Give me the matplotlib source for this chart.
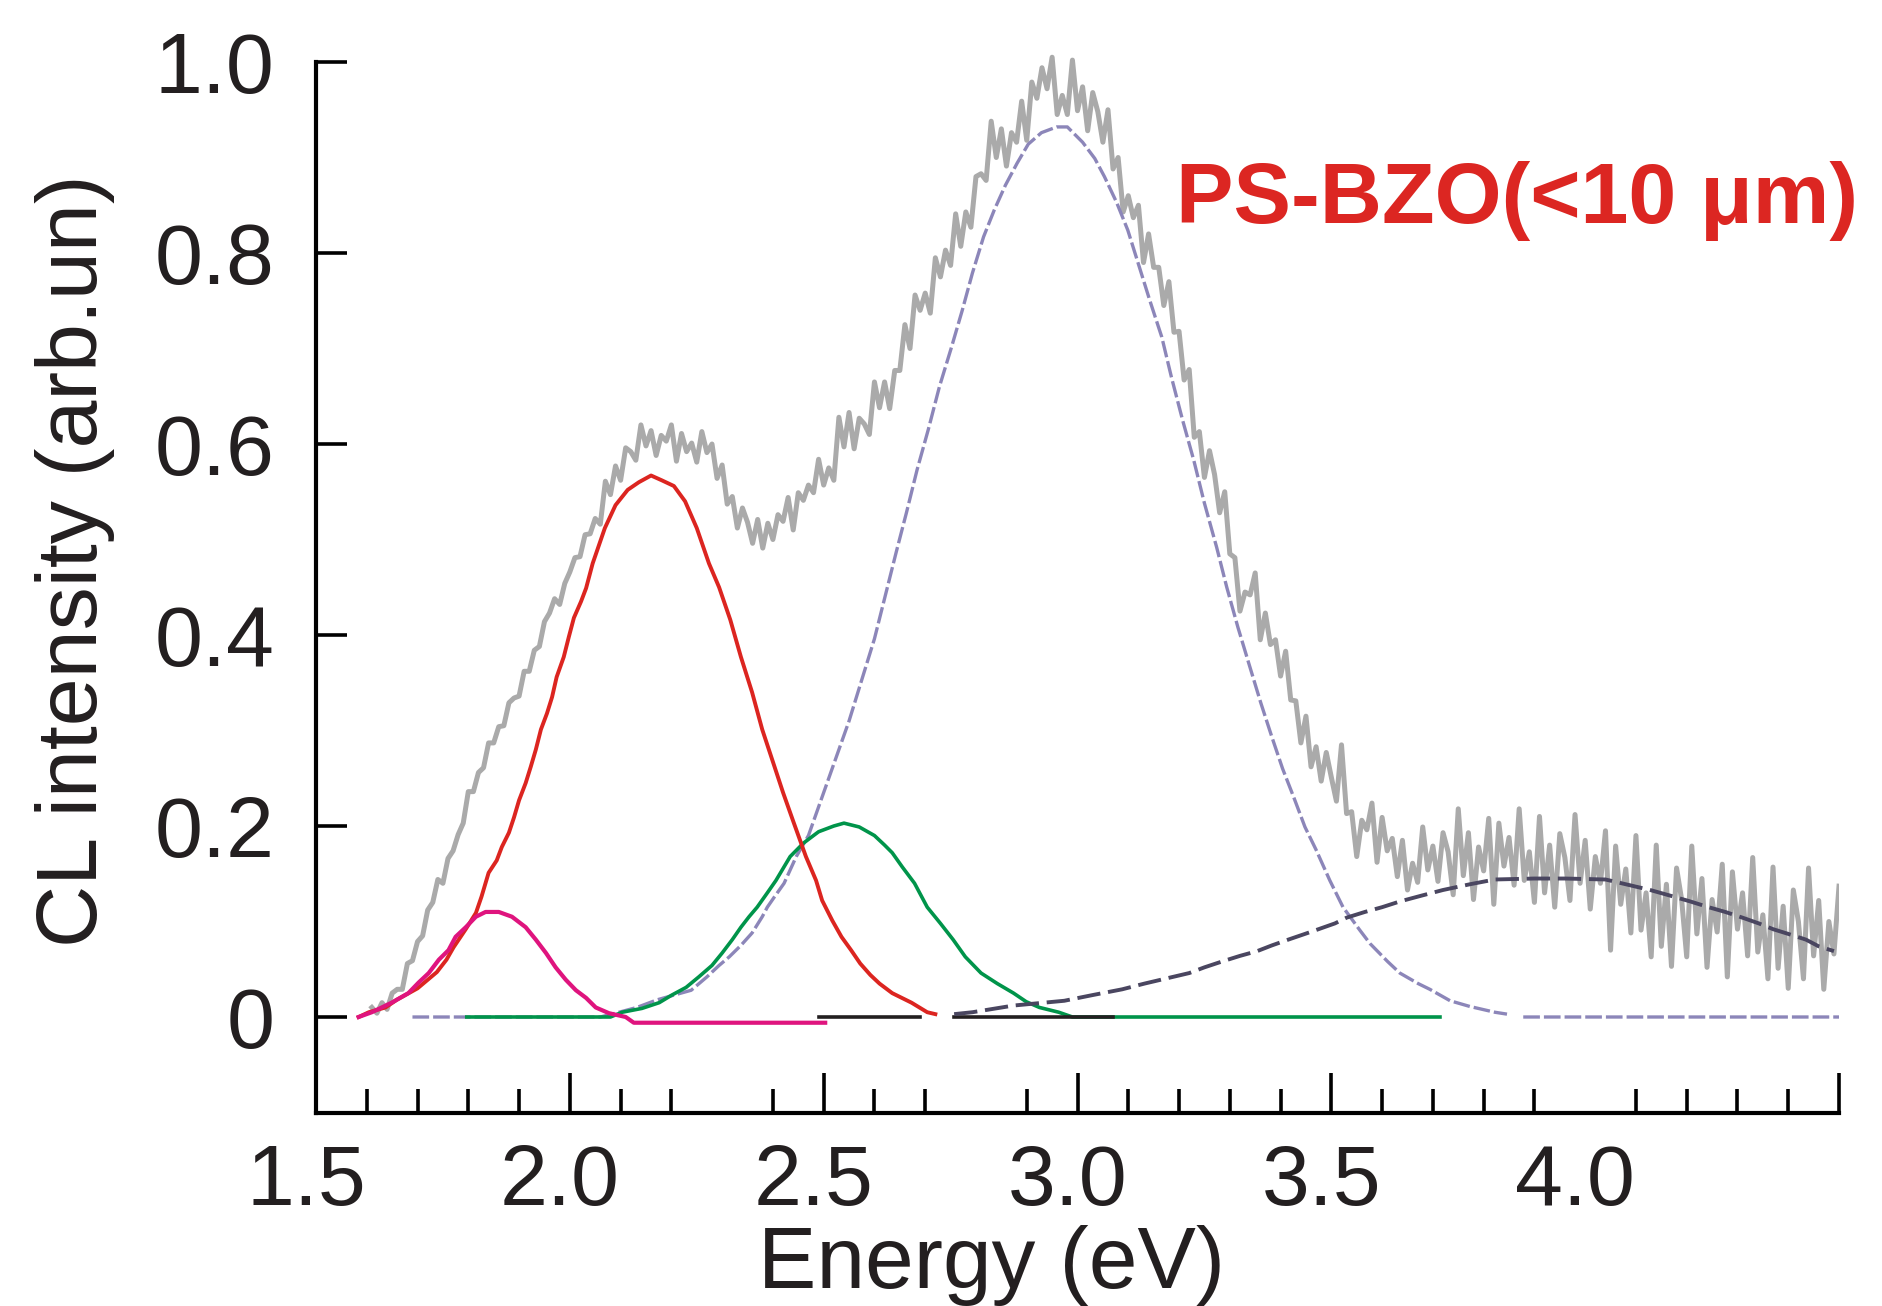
#CL spectrum of PS-BZO (<10 um) with gaussian components
import numpy as np
import matplotlib
matplotlib.use('Agg')
import matplotlib.pyplot as plt
import matplotlib.transforms as mtrans

plt.rcParams['font.family'] = ['Liberation Sans', 'DejaVu Sans']

#measured spectrum, one value every 0.01 eV from 1.61 to 4.50 eV
gray_energy = np.round(np.arange(161, 451) / 100.0, 2)
gray_intensity = [
    0.010, 0.004, 0.015, 0.008, 0.025, 0.029, 0.029, 0.056, 0.059, 0.079,
    0.085, 0.112, 0.120, 0.144, 0.140, 0.166, 0.174, 0.191, 0.203, 0.236,
    0.236, 0.256, 0.261, 0.287, 0.287, 0.304, 0.305, 0.329, 0.334, 0.336,
    0.362, 0.362, 0.384, 0.388, 0.414, 0.423, 0.438, 0.432, 0.454, 0.466,
    0.481, 0.482, 0.505, 0.506, 0.522, 0.516, 0.561, 0.547, 0.577, 0.562,
    0.596, 0.592, 0.583, 0.620, 0.598, 0.614, 0.588, 0.609, 0.603, 0.620,
    0.582, 0.611, 0.592, 0.601, 0.581, 0.613, 0.591, 0.600, 0.564, 0.578,
    0.537, 0.545, 0.512, 0.533, 0.518, 0.496, 0.521, 0.491, 0.517, 0.500,
    0.526, 0.519, 0.544, 0.510, 0.549, 0.541, 0.557, 0.549, 0.584, 0.557,
    0.575, 0.562, 0.628, 0.597, 0.633, 0.595, 0.627, 0.621, 0.610, 0.665,
    0.638, 0.665, 0.637, 0.677, 0.677, 0.725, 0.700, 0.756, 0.740, 0.758,
    0.737, 0.795, 0.775, 0.803, 0.787, 0.841, 0.807, 0.843, 0.827, 0.880,
    0.883, 0.876, 0.938, 0.900, 0.930, 0.891, 0.926, 0.916, 0.959, 0.918,
    0.979, 0.962, 0.994, 0.972, 1.005, 0.945, 0.965, 0.945, 1.002, 0.949,
    0.974, 0.928, 0.968, 0.948, 0.916, 0.950, 0.888, 0.900, 0.843, 0.860,
    0.837, 0.850, 0.790, 0.820, 0.785, 0.785, 0.745, 0.770, 0.717, 0.718,
    0.667, 0.678, 0.607, 0.613, 0.565, 0.593, 0.568, 0.528, 0.550, 0.485,
    0.481, 0.425, 0.445, 0.442, 0.465, 0.395, 0.423, 0.390, 0.395, 0.357,
    0.383, 0.332, 0.331, 0.287, 0.315, 0.262, 0.283, 0.247, 0.277, 0.251,
    0.226, 0.285, 0.213, 0.215, 0.168, 0.206, 0.196, 0.224, 0.162, 0.209,
    0.174, 0.187, 0.147, 0.185, 0.133, 0.161, 0.141, 0.199, 0.154, 0.179,
    0.142, 0.193, 0.173, 0.128, 0.218, 0.148, 0.193, 0.123, 0.178, 0.153,
    0.208, 0.118, 0.203, 0.158, 0.188, 0.138, 0.218, 0.143, 0.173, 0.120,
    0.210, 0.130, 0.180, 0.115, 0.192, 0.167, 0.122, 0.212, 0.140, 0.185,
    0.113, 0.168, 0.140, 0.195, 0.070, 0.179, 0.118, 0.155, 0.088, 0.190,
    0.091, 0.130, 0.063, 0.180, 0.074, 0.139, 0.053, 0.156, 0.123, 0.063,
    0.179, 0.087, 0.145, 0.052, 0.123, 0.089, 0.160, 0.042, 0.152, 0.092,
    0.130, 0.064, 0.167, 0.068, 0.107, 0.040, 0.157, 0.051, 0.116, 0.030,
    0.133, 0.100, 0.040, 0.156, 0.064, 0.122, 0.029, 0.100, 0.066, 0.137,
]

#fit components (energy, intensity)
magenta_e = [1.584, 1.61, 1.649, 1.682, 1.702, 1.722, 1.742, 1.761, 1.775, 1.795,
             1.815, 1.834, 1.86, 1.886, 1.913, 1.933, 1.953, 1.972, 1.992, 2.012,
             2.032, 2.051, 2.077, 2.11, 2.126, 2.503]
magenta_i = [0.0, 0.005, 0.015, 0.025, 0.036, 0.046, 0.06, 0.07, 0.084, 0.094,
             0.105, 0.11, 0.11, 0.105, 0.094, 0.081, 0.067, 0.052, 0.039, 0.028,
             0.02, 0.01, 0.004, 0.0, -0.006, -0.006]

red_e = [1.584, 1.604, 1.637, 1.659, 1.70, 1.738, 1.757, 1.771, 1.795, 1.815,
         1.826, 1.84, 1.856, 1.866, 1.88, 1.89, 1.90, 1.913, 1.923, 1.933,
         1.943, 1.955, 1.965, 1.974, 1.988, 1.998, 2.008, 2.022, 2.032, 2.045,
         2.069, 2.09, 2.114, 2.136, 2.16, 2.181, 2.205, 2.227, 2.25, 2.274,
         2.294, 2.316, 2.337, 2.359, 2.379, 2.402, 2.42, 2.44, 2.465, 2.485,
         2.497, 2.517, 2.535, 2.554, 2.572, 2.592, 2.61, 2.635, 2.673, 2.704, 2.72]
red_i = [0.0, 0.005, 0.01, 0.018, 0.03, 0.047, 0.06, 0.073, 0.092, 0.109,
         0.126, 0.151, 0.164, 0.178, 0.193, 0.209, 0.227, 0.245, 0.262, 0.28,
         0.301, 0.318, 0.335, 0.356, 0.377, 0.398, 0.418, 0.435, 0.449, 0.475,
         0.512, 0.536, 0.552, 0.56, 0.567, 0.562, 0.556, 0.54, 0.512, 0.475,
         0.45, 0.416, 0.377, 0.34, 0.301, 0.264, 0.235, 0.205, 0.168, 0.143,
         0.122, 0.101, 0.084, 0.07, 0.056, 0.044, 0.035, 0.025, 0.015, 0.005, 0.003]

green_e = [1.797, 2.08, 2.103, 2.142, 2.176, 2.201, 2.229, 2.254, 2.28, 2.30,
           2.32, 2.337, 2.353, 2.369, 2.389, 2.406, 2.434, 2.46, 2.49, 2.52,
           2.54, 2.57, 2.60, 2.62, 2.635, 2.655, 2.679, 2.704, 2.73, 2.755,
           2.779, 2.81, 2.842, 2.874, 2.899, 2.925, 2.963, 2.99, 3.714]
green_i = [0.0, 0.0, 0.005, 0.009, 0.015, 0.023, 0.031, 0.042, 0.054, 0.067,
           0.081, 0.094, 0.105, 0.115, 0.13, 0.143, 0.168, 0.182, 0.194, 0.2,
           0.203, 0.199, 0.19, 0.18, 0.172, 0.157, 0.14, 0.115, 0.098, 0.081,
           0.063, 0.046, 0.035, 0.025, 0.016, 0.01, 0.005, 0.0, 0.0]

lavender_e = [1.69, 2.06, 2.097, 2.132, 2.172, 2.239, 2.27, 2.294, 2.314, 2.337,
              2.359, 2.379, 2.389, 2.402, 2.422, 2.446, 2.47, 2.5, 2.55, 2.6,
              2.643, 2.663, 2.684, 2.706, 2.728, 2.751, 2.773, 2.793, 2.815, 2.836,
              2.858, 2.881, 2.903, 2.929, 2.959, 2.98, 3.01, 3.034, 3.053, 3.077,
              3.099, 3.122, 3.142, 3.166, 3.185, 3.207, 3.229, 3.25, 3.274, 3.294,
              3.316, 3.337, 3.361, 3.383, 3.404, 3.426, 3.448, 3.47, 3.497, 3.523,
              3.556, 3.576, 3.611, 3.635, 3.671, 3.694, 3.734, 3.773, 3.822, 3.846,
              3.862, 3.878, 4.5]
lavender_i = [0.0, 0.0, 0.005, 0.01, 0.018, 0.028, 0.042, 0.054, 0.063, 0.075,
              0.088, 0.105, 0.115, 0.125, 0.14, 0.168, 0.19, 0.235, 0.31, 0.396,
              0.487, 0.528, 0.573, 0.615, 0.66, 0.70, 0.74, 0.779, 0.817, 0.845,
              0.871, 0.894, 0.914, 0.926, 0.932, 0.932, 0.916, 0.899, 0.88, 0.853,
              0.824, 0.785, 0.751, 0.712, 0.67, 0.625, 0.583, 0.538, 0.492, 0.45,
              0.408, 0.371, 0.329, 0.293, 0.26, 0.23, 0.199, 0.175, 0.143, 0.115,
              0.091, 0.077, 0.058, 0.046, 0.035, 0.029, 0.017, 0.011, 0.005, 0.003,
              np.nan, 0.0, 0.0]

slate_e = [2.757, 2.793, 2.874, 2.974, 3.03, 3.088, 3.132, 3.18, 3.22, 3.25,
           3.284, 3.32, 3.354, 3.383, 3.415, 3.448, 3.475, 3.507, 3.53, 3.566,
           3.60, 3.635, 3.677, 3.72, 3.773, 3.822, 3.9, 3.96, 4.04, 4.08,
           4.128, 4.168, 4.207, 4.243, 4.276, 4.31, 4.342, 4.37, 4.40, 4.435,
           4.46, 4.49]
slate_i = [0.003, 0.005, 0.012, 0.017, 0.023, 0.029, 0.035, 0.041, 0.046, 0.052,
           0.058, 0.064, 0.069, 0.075, 0.081, 0.087, 0.092, 0.098, 0.104, 0.11,
           0.115, 0.121, 0.127, 0.133, 0.139, 0.144, 0.145, 0.145, 0.144, 0.139,
           0.133, 0.127, 0.121, 0.115, 0.11, 0.104, 0.098, 0.092, 0.087, 0.081,
           0.074, 0.069]

baseline_e = [2.49, 2.69, 2.72, 2.757, 3.07]
baseline_i = [0.0, 0.0, np.nan, 0.0, 0.0]

x_major = [1.5, 2.0, 2.5, 3.0, 3.5, 4.0, 4.5]
x_labels = ['1.5', '2.0', '2.5', '3.0', '3.5', '4.0', '']
x_minor = [1.6, 1.7, 1.8, 1.9, 2.1, 2.2, 2.4, 2.6, 2.7, 2.9, 3.1, 3.2, 3.3, 3.4,
           3.6, 3.7, 3.8, 3.9, 4.1, 4.2, 4.3, 4.4]
y_major = [0, 0.2, 0.4, 0.6, 0.8, 1.0]
y_labels = ['0', '0.2', '0.4', '0.6', '0.8', '1.0']

txt_col = '#231f20'

fig = plt.figure(figsize=(18.83, 13.06), dpi=100)
ax = fig.add_axes([0.16782, 0.14816, 0.80882, 0.84824])

ax.plot(gray_energy, gray_intensity, color='#aaaaaa', lw=3.6, zorder=1)
ax.plot(lavender_e, lavender_i, color='#8c86b9', lw=2.4, dashes=(5, 1.2), zorder=2)
ax.plot(green_e, green_i, color='#00944a', lw=2.6, zorder=3)
ax.plot(baseline_e, baseline_i, color=txt_col, lw=2.6, zorder=3.5)
ax.plot(red_e, red_i, color='#dc2520', lw=2.8, zorder=4)
ax.plot(magenta_e, magenta_i, color='#df147e', lw=3.0, zorder=5)
ax.plot(slate_e, slate_i, color='#4a4660', lw=2.8, dashes=(6, 2), zorder=6)

ax.set_xlim(1.5, 4.5)
ax.set_ylim(-0.1, 1.06)

for s in ['top', 'right']:
    ax.spines[s].set_visible(False)
ax.spines['left'].set_bounds(-0.1, 1.0)
ax.spines['left'].set_linewidth(3)
ax.spines['bottom'].set_linewidth(3)

ax.set_xticks(x_major, x_labels)
ax.set_xticks(x_minor, minor=True)
ax.set_yticks(y_major, y_labels)
ax.tick_params(axis='x', which='major', direction='in', length=29, width=2.6,
               pad=22, labelsize=62, labelcolor=txt_col)
ax.tick_params(axis='x', which='minor', direction='in', length=17, width=2.6)
ax.tick_params(axis='y', which='major', direction='in', length=22, width=2.6,
               pad=30, labelsize=62, labelcolor=txt_col)
ticks = ax.xaxis.get_major_ticks()
ticks[0].tick1line.set_visible(False)
ticks[5].tick1line.set_visible(False)

#labels in the original sit a little left of their ticks
shift = mtrans.ScaledTranslation(-0.1, 0, fig.dpi_scale_trans)
for lab in ax.get_xticklabels():
    lab.set_transform(lab.get_transform() + shift)

fig.text(992 / 1883, 1 - 1225 / 1306, 'Energy (eV)', ha='center', va='top',
         fontsize=63, color=txt_col)
fig.text(75 / 1883, 1 - 561 / 1306, 'CL intensity (arb.un)', ha='center',
         va='center', rotation=90, fontsize=62, color=txt_col)
fig.text(1176 / 1883, 1 - 223 / 1306, 'PS-BZO(<10 \u03bcm)', ha='left',
         va='baseline', fontsize=62, fontweight='bold', color='#dc2622')

fig.savefig('out.png', dpi=100)
plt.close()
